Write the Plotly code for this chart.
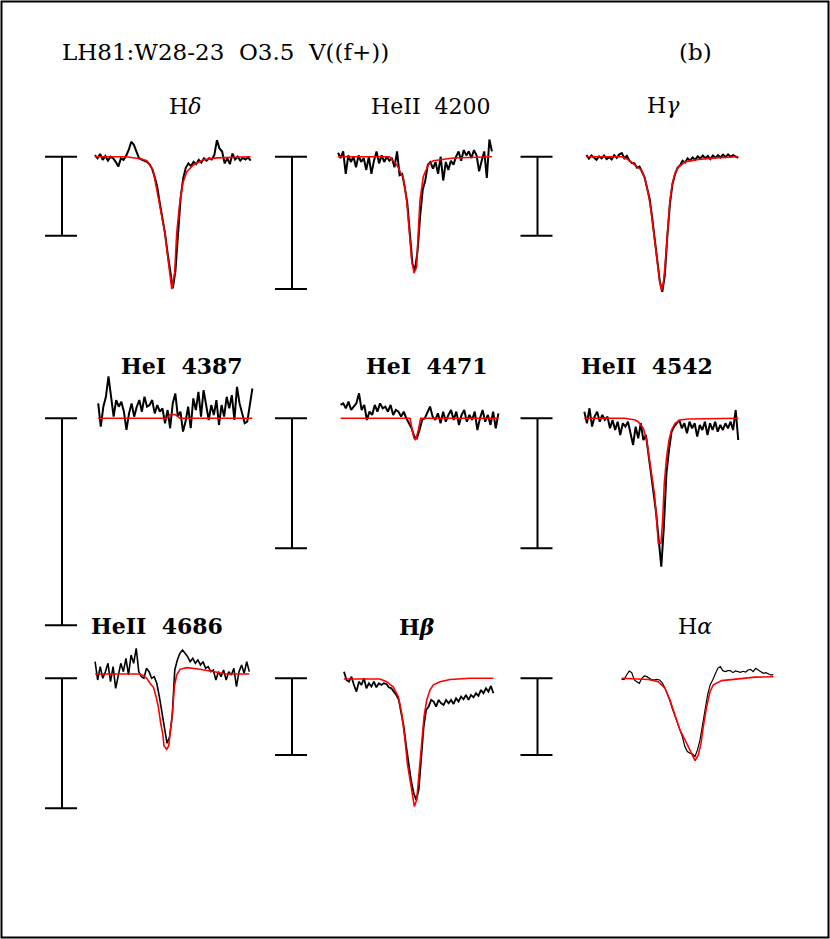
import plotly.graph_objects as go

W, H = 830, 939

# ---------------- data ----------------
# wavelength offset from line centre (Angstrom) for the observed spectra
wave = [-15.0, -14.5, -14.0, -13.5, -13.0, -12.5, -12.0, -11.5, -11.0, -10.5,
        -10.0, -9.5, -9.0, -8.5, -8.0, -7.5, -7.0, -6.5, -6.0, -5.5,
        -5.0, -4.5, -4.0, -3.5, -3.0, -2.5, -2.0, -1.5, -1.0, -0.5,
        0.0, 0.5, 1.0, 1.5, 2.0, 2.5, 3.0, 3.5, 4.0, 4.5,
        5.0, 5.5, 6.0, 6.5, 7.0, 7.5, 8.0, 8.5, 9.0, 9.5,
        10.0, 10.5, 11.0, 11.5, 12.0, 12.5, 13.0, 13.5, 14.0, 14.5, 15.0]

# observed normalised flux
hd_obs = [1.004, 0.996, 1.007, 0.992, 1.002, 0.990, 1.000, 0.996, 0.987, 0.975,
          0.996, 0.992, 1.002, 1.017, 1.038, 1.030, 1.013, 0.996, 0.993, 0.990,
          0.987, 0.981, 0.970, 0.949, 0.924, 0.882, 0.848, 0.806, 0.755, 0.705,
          0.667, 0.710, 0.806, 0.895, 0.945, 0.972, 0.983, 0.976, 0.987, 0.981,
          0.992, 0.985, 0.996, 0.990, 0.996, 0.993, 1.004, 1.042, 1.021, 1.013,
          0.983, 0.996, 0.981, 1.008, 0.993, 1.000, 0.990, 0.997, 0.993, 0.998, 0.990]
he4200_obs = [1.003, 0.999, 1.004, 0.987, 1.001, 0.996, 1.000, 0.992, 1.001, 0.996,
              0.999, 0.990, 1.000, 0.987, 0.997, 1.004, 0.995, 1.001, 0.996, 1.000,
              0.997, 0.999, 0.992, 1.004, 0.986, 0.987, 0.977, 0.965, 0.942, 0.919,
              0.914, 0.929, 0.955, 0.975, 0.982, 0.994, 0.996, 0.991, 0.996, 0.987,
              1.000, 0.982, 0.996, 0.990, 0.997, 0.994, 1.000, 1.004, 0.997, 1.005,
              1.001, 1.004, 0.999, 1.005, 1.001, 0.989, 0.997, 1.004, 0.984, 1.013, 1.004]
hg_obs = [1.004, 0.995, 1.003, 0.998, 0.992, 1.001, 0.996, 1.003, 0.994, 0.999,
          0.993, 1.004, 0.997, 1.006, 1.009, 0.996, 1.002, 0.990, 0.984, 0.983,
          0.972, 0.975, 0.962, 0.948, 0.920, 0.893, 0.845, 0.790, 0.735, 0.685,
          0.658, 0.700, 0.800, 0.880, 0.930, 0.955, 0.972, 0.978, 0.990, 0.985,
          0.996, 0.990, 0.998, 0.992, 1.001, 0.995, 1.003, 0.996, 1.002, 0.994,
          1.003, 0.997, 1.004, 0.998, 1.005, 0.999, 1.006, 1.000, 1.004, 1.001, 0.997]
he4387_obs = [1.0036, 0.9980, 1.0028, 1.0052, 1.0101, 1.0048, 1.0004, 1.0044, 1.0028, 1.0040,
              1.0016, 0.9972, 1.0012, 1.0036, 1.0004, 1.0028, 1.0044, 1.0016, 1.0052, 1.0028,
              1.0032, 1.0044, 1.0012, 1.0032, 1.0016, 1.0024, 0.9988, 1.0020, 0.9976, 1.0036,
              1.0060, 1.0004, 1.0016, 0.9968, 0.9992, 1.0028, 0.9976, 1.0048, 1.0020, 1.0064,
              1.0004, 1.0068, 1.0028, 0.9996, 1.0032, 1.0008, 1.0044, 0.9984, 1.0032, 1.0004,
              1.0052, 1.0024, 1.0056, 0.9996, 1.0076, 1.0036, 1.0012, 0.9988, 0.9992, 1.0036, 1.0072]
he4471_obs = [1.0103, 1.0115, 1.0077, 1.0128, 1.0064, 1.0090, 1.0115, 1.0192, 1.0064, 1.0103,
              0.9987, 1.0051, 1.0026, 1.0103, 1.0051, 1.0115, 1.0077, 1.0090, 1.0051, 1.0103,
              1.0026, 1.0064, 1.0051, 1.0013, 1.0051, 1.0000, 0.9962, 0.9923, 0.9859, 0.9846,
              0.9910, 0.9987, 1.0000, 1.0051, 1.0090, 1.0013, 0.9987, 1.0038, 0.9962, 1.0051,
              0.9974, 1.0026, 1.0064, 0.9987, 1.0051, 0.9949, 1.0026, 1.0064, 0.9974, 1.0026,
              0.9987, 1.0051, 0.9910, 1.0000, 1.0064, 0.9974, 1.0026, 0.9949, 1.0051, 0.9923, 1.0038]
he4542_obs = [1.0051, 0.9962, 1.0077, 0.9936, 1.0013, 1.0051, 0.9974, 1.0026, 0.9987, 1.0013,
              0.9923, 0.9987, 0.9910, 0.9974, 0.9872, 0.9962, 0.9936, 0.9974, 0.9885, 0.9795,
              0.9936, 0.9846, 0.9962, 0.9833, 0.9872, 0.9731, 0.9603, 0.9423, 0.9269, 0.9038,
              0.8859, 0.9167, 0.9577, 0.9756, 0.9897, 0.9936, 0.9962, 0.9987, 0.9923, 0.9962,
              0.9885, 0.9974, 0.9923, 0.9962, 0.9859, 0.9949, 0.9910, 0.9974, 0.9872, 0.9962,
              0.9910, 0.9974, 0.9897, 0.9949, 0.9910, 0.9962, 0.9923, 0.9974, 0.9910, 1.0064, 0.9833]
he4686_obs = [1.0128, 0.9987, 1.0090, 1.0000, 1.0051, 1.0115, 0.9974, 1.0090, 0.9923, 1.0026,
              1.0115, 1.0051, 1.0154, 1.0026, 1.0179, 1.0115, 1.0231, 1.0051, 1.0013, 1.0000,
              1.0077, 1.0051, 1.0000, 1.0013, 0.9962, 0.9859, 0.9731, 0.9603, 0.9500, 0.9551,
              0.9705, 1.0064, 1.0141, 1.0192, 1.0218, 1.0192, 1.0167, 1.0128, 1.0154, 1.0115,
              1.0141, 1.0103, 1.0128, 1.0077, 1.0090, 1.0051, 1.0064, 0.9987, 1.0051, 1.0013,
              1.0064, 0.9987, 1.0051, 1.0026, 1.0077, 0.9936, 1.0051, 1.0103, 1.0038, 1.0128, 1.0051]
hb_obs = [1.0174, 0.9957, 0.9913, 1.0043, 0.9826, 0.9652, 0.9913, 0.9826, 1.0000, 0.9739,
          0.9870, 0.9783, 0.9913, 0.9765, 0.9870, 0.9826, 0.9870, 0.9852, 0.9765, 0.9739,
          0.9652, 0.9565, 0.9435, 0.9130, 0.8739, 0.8217, 0.7696, 0.7304, 0.7000, 0.6826,
          0.7087, 0.8043, 0.8739, 0.9174, 0.9261, 0.9435, 0.9391, 0.9261, 0.9435, 0.9348,
          0.9304, 0.9435, 0.9348, 0.9435, 0.9330, 0.9478, 0.9391, 0.9522, 0.9452, 0.9565,
          0.9435, 0.9565, 0.9504, 0.9609, 0.9539, 0.9696, 0.9609, 0.9739, 0.9652, 0.9800, 0.9609]
ha_obs = [0.9974, 0.9974, 1.0087, 1.0191, 1.0148, 0.9957, 0.9913, 0.9870, 1.0000, 1.0061,
          1.0043, 1.0000, 0.9957, 0.9957, 0.9974, 0.9957, 0.9887, 0.9765, 0.9609, 0.9435,
          0.9217, 0.9043, 0.8870, 0.8696, 0.8478, 0.8217, 0.8087, 0.8043, 0.8026, 0.7957,
          0.8130, 0.8391, 0.8739, 0.9174, 0.9565, 0.9826, 0.9957, 1.0130, 1.0261, 1.0304,
          1.0200, 1.0174, 1.0200, 1.0200, 1.0148, 1.0191, 1.0174, 1.0157, 1.0183, 1.0165,
          1.0217, 1.0235, 1.0174, 1.0261, 1.0217, 1.0174, 1.0130, 1.0148, 1.0113, 1.0087, 1.0087]

# model (fit) profiles: wavelength offsets and flux
hd_fit_x = [-15, -9, -6.3, -5.0, -3.8, -3.1, -2.5, -1.5, -1.05, -0.65, -0.2, 0.35, 0.75, 1.25, 1.9, 2.7, 3.95, 5.9, 8.5, 15]
hd_fit = [1.000, 1.000, 0.995, 0.990, 0.966, 0.920, 0.873, 0.806, 0.755, 0.705, 0.665, 0.705, 0.806, 0.873, 0.932, 0.962, 0.979, 0.992, 0.997, 1.000]
he4200_fit_x = [-15, -5, -3.57, -2.27, -1.62, -1.10, -0.65, -0.19, 0.32, 0.65, 0.97, 1.62, 2.6, 3.57, 7.47, 15]
he4200_fit = [1.000, 1.000, 0.994, 0.984, 0.967, 0.944, 0.922, 0.912, 0.917, 0.944, 0.967, 0.985, 0.994, 0.997, 0.999, 1.000]
hg_fit_x = [-15, -8.0, -6.7, -5.4, -4.1, -3.43, -2.77, -2.24, -1.78, -1.32, -0.92, -0.46, -0.13, 0.2, 0.53, 0.86, 1.19, 1.52, 1.98, 2.5, 3.16, 4.48, 7.12, 10.4, 15]
hg_fit = [1.000, 1.000, 0.992, 0.979, 0.966, 0.945, 0.907, 0.865, 0.814, 0.764, 0.722, 0.679, 0.662, 0.679, 0.722, 0.781, 0.831, 0.890, 0.932, 0.958, 0.973, 0.987, 0.993, 0.997, 1.000]
he4387_fit_x = [-15, -1.7, -1.0, 0.0, 0.9, 15]
he4387_fit = [1.0, 1.0, 1.0009, 1.0009, 1.0, 1.0]
he4471_fit_x = [-15, -1.8, -1.5, -1.05, -0.73, -0.22, 0.22, 15]
he4471_fit = [1.0, 1.0, 0.9936, 0.9846, 0.9833, 0.991, 1.0, 1.0]
he4542_fit_x = [-15, -7.1, -5.1, -4.5, -3.5, -2.85, -2.4, -1.9, -1.35, -0.9, -0.58, -0.06, 0.26, 0.58, 1.04, 1.5, 2.0, 2.66, 3.64, 5.26, 15]
he4542_fit = [1.0, 1.0, 0.9987, 0.9974, 0.9923, 0.9833, 0.9705, 0.9551, 0.9423, 0.9218, 0.9038, 0.9038, 0.9218, 0.950, 0.9705, 0.9833, 0.991, 0.996, 0.9987, 0.9995, 1.0]
he4686_fit_x = [-15, -6.25, -5.6, -4.96, -4.3, -3.66, -3.14, -2.69, -2.24, -1.85, -1.59, -1.07, -0.68, -0.29, 0.1, 0.42, 0.87, 1.52, 2.82, 5.41, 8.0, 10.6, 15]
he4686_fit = [1.0033, 1.0033, 1.0018, 1.0, 0.9962, 0.9931, 0.9859, 0.978, 0.9654, 0.9577, 0.948, 0.9454, 0.948, 0.9628, 0.9756, 0.9936, 1.0026, 1.0069, 1.0082, 1.0069, 1.0051, 1.0033, 1.0033]
hb_fit_x = [-15, -7.77, -6.43, -5.09, -4.09, -3.42, -2.75, -2.28, -1.74, -1.27, -0.87, -0.40, 0.07, 0.60, 1.07, 1.61, 2.28, 2.95, 4.29, 6.30, 10.3, 15]
hb_fit = [0.998, 0.998, 0.991, 0.977, 0.952, 0.909, 0.839, 0.778, 0.735, 0.691, 0.665, 0.683, 0.752, 0.830, 0.900, 0.943, 0.970, 0.983, 0.991, 0.997, 1.0, 1.0]
ha_fit_x = [-15, -9.72, -7.75, -6.43, -5.44, -4.45, -3.46, -2.47, -1.48, -0.49, 0.16, 0.69, 1.15, 1.81, 2.47, 3.13, 4.78, 7.42, 11.37, 15]
ha_fit = [1.0, 0.997, 0.991, 0.974, 0.943, 0.904, 0.865, 0.839, 0.813, 0.785, 0.800, 0.830, 0.874, 0.926, 0.965, 0.983, 0.994, 0.998, 1.003, 1.004]

line_labels = ["H<i>δ</i>", "HeII  4200", "H<i>γ</i>",
               "HeI  4387", "HeI  4471", "HeII  4542",
               "HeII  4686", "H<i>β</i>", "H<i>α</i>"]
scale_bars = [0.2, 0.1, 0.2, 0.05, 0.1, 0.1, 0.1, 0.2, 0.2]   # flux length of each scale bar
obs_series = [hd_obs, he4200_obs, hg_obs, he4387_obs, he4471_obs, he4542_obs, he4686_obs, hb_obs, ha_obs]
fit_x_series = [hd_fit_x, he4200_fit_x, hg_fit_x, he4387_fit_x, he4471_fit_x, he4542_fit_x, he4686_fit_x, hb_fit_x, ha_fit_x]
fit_series = [hd_fit, he4200_fit, hg_fit, he4387_fit, he4471_fit, he4542_fit, he4686_fit, hb_fit, ha_fit]

star_title = "LH81:W28-23\u00a0 O3.5\u00a0 V((f+))"
panel_tag = "(b)"

# ---------------- layout geometry (pixels) ----------------
# line centre x, px per Angstrom, continuum y, px per flux unit, bar x, label x, label y, bold, obs line width
geom = [
    (172.8, 5.19, 156.7, 395, 62, 185, 106, False, 2.0),
    (415.0, 5.13, 156.7, 1323, 292, 431, 106, False, 2.0),
    (662.3, 5.06, 156.7, 395, 537.5, 663, 105, False, 2.0),
    (175.3, 5.14, 418.3, 4140, 62, 182, 366, True, 2.0),
    (419.5, 5.26, 418.3, 1300, 292, 427, 366, True, 2.0),
    (661.3, 5.13, 418.3, 1300, 537.5, 647, 366, True, 2.0),
    (172.2, 5.14, 678.3, 1300, 62, 157, 626, True, 1.6),
    (418.7, 4.98, 678.3, 383, 292, 417, 627, True, 1.8),
    (697.5, 5.06, 678.3, 383, 537.5, 695, 626, False, 1.2),
]

fig = go.Figure()
layout = dict(width=W, height=H, margin=dict(l=0, r=0, t=0, b=0),
              paper_bgcolor="white", plot_bgcolor="rgba(0,0,0,0)", showlegend=False)
shapes = []
annotations = []
FONT = "DejaVu Serif"

for i, (cx, pxa, yc, s, bx, lx, ly, bold, lw) in enumerate(geom):
    n = i + 1
    xa = "x" if n == 1 else f"x{n}"
    ya = "y" if n == 1 else f"y{n}"
    up, dn = 75, 235
    layout["xaxis" if n == 1 else f"xaxis{n}"] = dict(
        domain=[(cx - 16 * pxa) / W, (cx + 16 * pxa) / W], range=[-16, 16],
        visible=False, anchor=ya, fixedrange=True)
    layout["yaxis" if n == 1 else f"yaxis{n}"] = dict(
        domain=[1 - (yc + dn) / H, 1 - (yc - up) / H], range=[1 - dn / s, 1 + up / s],
        visible=False, anchor=xa, fixedrange=True)
    fig.add_trace(go.Scatter(x=wave, y=obs_series[i], xaxis=xa, yaxis=ya, mode="lines",
                             line=dict(color="black", width=lw), hoverinfo="skip"))
    fig.add_trace(go.Scatter(x=fit_x_series[i], y=fit_series[i], xaxis=xa, yaxis=ya, mode="lines",
                             line=dict(color="#ff0000", width=1.6), hoverinfo="skip"))
    b = scale_bars[i]
    for (x0, x1, y0, y1) in [(bx, bx, 1.0, 1.0 - b), (bx - 17, bx + 15, 1.0, 1.0),
                             (bx - 17, bx + 15, 1.0 - b, 1.0 - b)]:
        shapes.append(dict(type="line", xref="paper", yref=ya, x0=x0 / W, x1=x1 / W,
                           y0=y0, y1=y1, line=dict(color="black", width=2)))
    txt = f"<b>{line_labels[i]}</b>" if bold else line_labels[i]
    annotations.append(dict(text=txt, xref="paper", yref="paper", x=lx / W, y=1 - ly / H,
                            xanchor="center", yanchor="middle", showarrow=False,
                            font=dict(family=FONT, size=22, color="black")))

annotations.append(dict(text=star_title, xref="paper", yref="paper", x=60 / W, y=1 - 52 / H,
                        xanchor="left", yanchor="middle", showarrow=False,
                        font=dict(family=FONT, size=23, color="black")))
annotations.append(dict(text=panel_tag, xref="paper", yref="paper", x=695 / W, y=1 - 52 / H,
                        xanchor="center", yanchor="middle", showarrow=False,
                        font=dict(family=FONT, size=23, color="black")))
shapes.append(dict(type="rect", xref="paper", yref="paper", x0=1.5 / W, x1=1 - 1.5 / W,
                   y0=1.5 / H, y1=1 - 1.5 / H, line=dict(color="black", width=2)))

layout["shapes"] = shapes
layout["annotations"] = annotations
fig.update_layout(**layout)
fig.write_html("out.html", config={"displayModeBar": False},
               post_script="document.body.style.margin='0';document.body.style.overflow='hidden';")
